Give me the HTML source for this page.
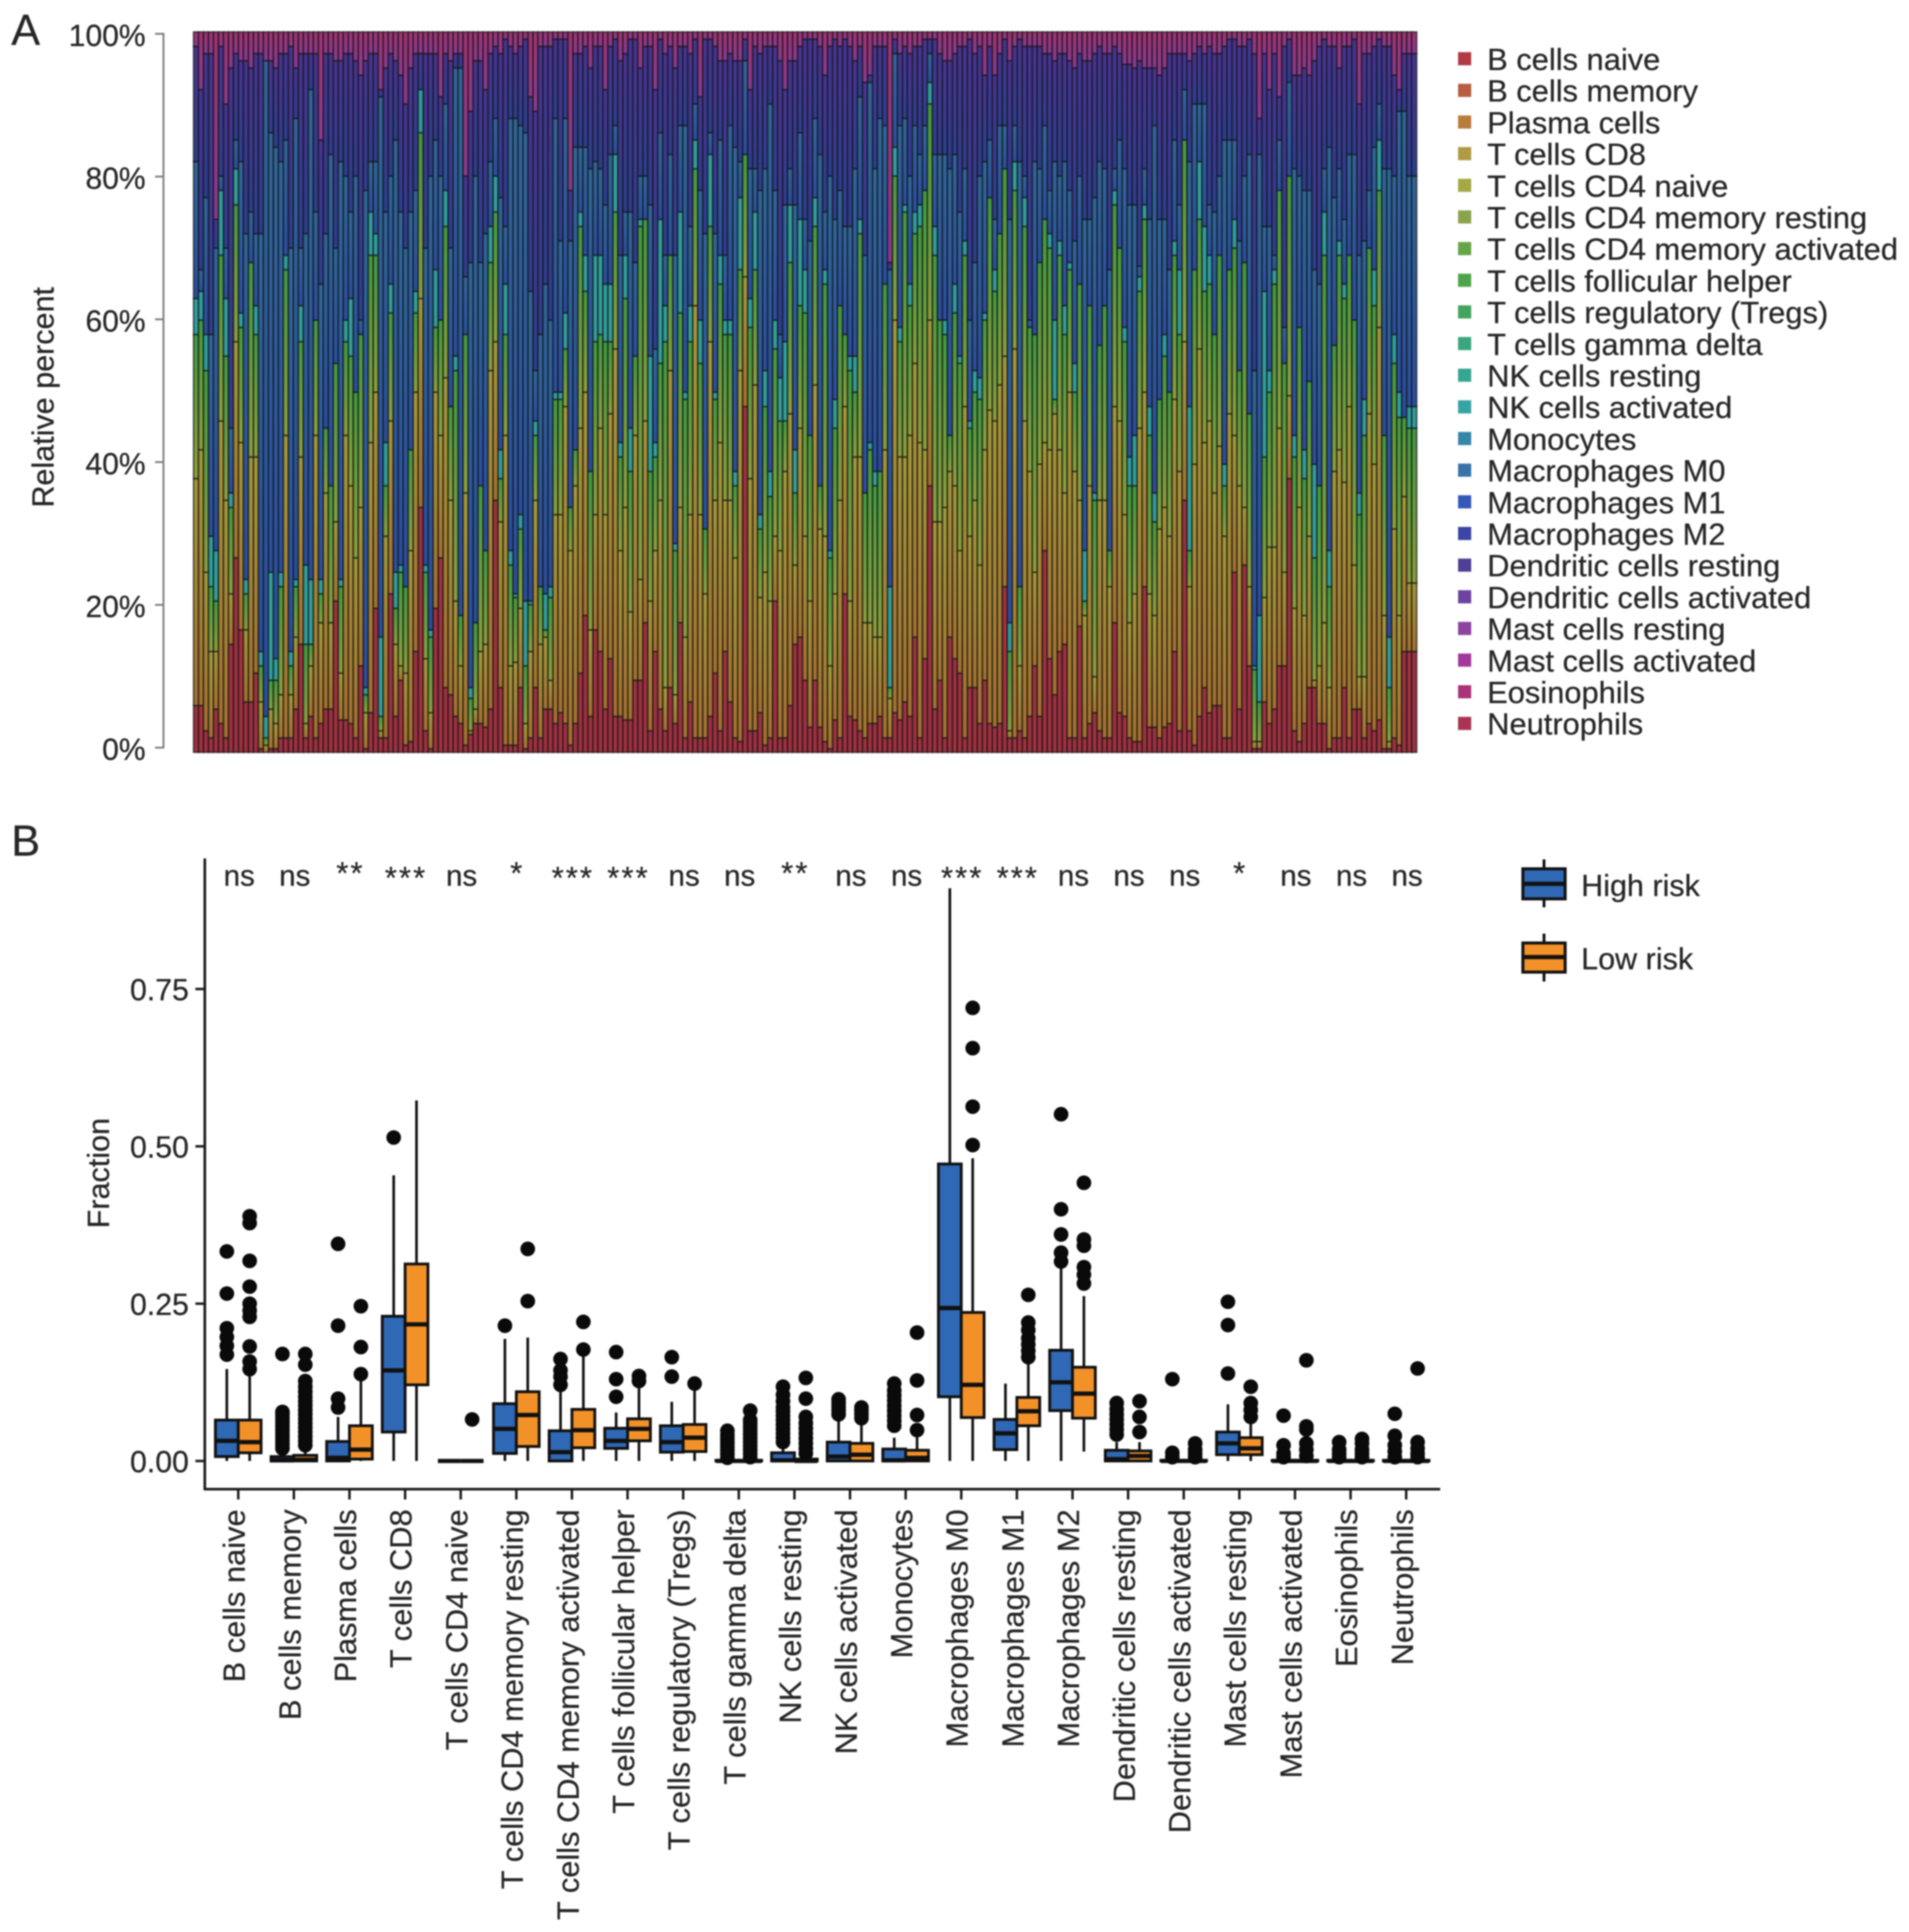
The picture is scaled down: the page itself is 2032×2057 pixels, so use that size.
<!DOCTYPE html>
<html lang="en">
<head>
<meta charset="utf-8">
<title>Immune cell fractions: stacked bars and box plots</title>
<style>
  html, body { margin: 0; padding: 0; background: #ffffff; }
  #figure { display: block; width: 2032px; height: 2057px; filter: blur(0.7px); font-family: "Liberation Sans", sans-serif; }
  text { font-family: "Liberation Sans", sans-serif; fill: #262626; stroke: #262626; stroke-width: 0.25px; }
</style>
</head>
<body>
<svg id="figure" xmlns="http://www.w3.org/2000/svg" width="2032" height="2057" viewBox="0 0 2032 2057">
  <defs>
    <linearGradient id="grad-olive" x1="0" y1="1" x2="0" y2="0"><stop offset="0" stop-color="#a5702f"/><stop offset="1" stop-color="#a39838"/></linearGradient>
    <linearGradient id="grad-green" x1="0" y1="1" x2="0" y2="0"><stop offset="0" stop-color="#8c9f3c"/><stop offset="1" stop-color="#409a40"/></linearGradient>
    <linearGradient id="grad-blue" x1="0" y1="1" x2="0" y2="0"><stop offset="0" stop-color="#2a4ea0"/><stop offset="1" stop-color="#2f6699"/></linearGradient>
    <linearGradient id="grad-indigo" x1="0" y1="1" x2="0" y2="0"><stop offset="0" stop-color="#2c3f90"/><stop offset="1" stop-color="#483392"/></linearGradient>
    <linearGradient id="grad-pink" x1="0" y1="1" x2="0" y2="0"><stop offset="0" stop-color="#8a3a90"/><stop offset="1" stop-color="#a03272"/></linearGradient>
  </defs>
  <text x="12" y="48" font-size="46">A</text>
  <text x="12" y="911" font-size="46">B</text>

  <g id="panel-a">
    <g id="stack-bars"></g>
    <line x1="174" y1="35" x2="174" y2="797" stroke="#7f7f7f" stroke-width="2"/>
    <g id="a-ticks"></g>
    <text transform="translate(57,423) rotate(-90)" text-anchor="middle" font-size="32.5">Relative percent</text>
    <g id="a-legend"></g>
  </g>

  <g id="panel-b">
    <line x1="218" y1="914" x2="218" y2="1586.5" stroke="#1a1a1a" stroke-width="2.8"/>
    <line x1="217" y1="1585.5" x2="1533" y2="1585.5" stroke="#1a1a1a" stroke-width="2.8"/>
    <g id="b-yticks"></g>
    <g id="b-xticks"></g>
    <text transform="translate(116,1249) rotate(-90)" text-anchor="middle" font-size="32.5">Fraction</text>
    <g id="b-boxes"></g>
    <g id="b-sig"></g>
    <g>
      <g>
        <line x1="1643.5" y1="915" x2="1643.5" y2="966" stroke="#111" stroke-width="3"/>
        <rect x="1621" y="925" width="45" height="32" fill="#2f68b5" stroke="#111" stroke-width="3.2"/>
        <line x1="1621" y1="941" x2="1666" y2="941" stroke="#111" stroke-width="4.5"/>
        <text x="1683" y="954" font-size="32.5">High risk</text>
      </g>
      <g>
        <line x1="1643.5" y1="994" x2="1643.5" y2="1045" stroke="#111" stroke-width="3"/>
        <rect x="1621" y="1004" width="45" height="31" fill="#f39129" stroke="#111" stroke-width="3.2"/>
        <line x1="1621" y1="1019" x2="1666" y2="1019" stroke="#111" stroke-width="4.5"/>
        <text x="1683" y="1032" font-size="32.5">Low risk</text>
      </g>
    </g>
  </g>
</svg>
<script>
// ---- Panel A: percent at the top of each visible colour band, one value per sample
const bCellsNaiveTop = [6.5,6.5,3,2,6,4,2,15,27,17,7,7,11,.5,0,.5,.5,2,2,2,6,15,2,5,2,4,6,6,21,4.5,4.5,4,2,12,.5,5.5,20,2,2,22,5,10,1,1.5,14,34,3,.5,20,27,9,8,5,4,1,2.5,4,4,3.5,6,35,
9,1,1,1,9,.5,2,9,2,6,6,4,5.5,4,1,4,11,19,5,17,14,6,13,5,5,4.5,4.5,10,10,18,3,14,6,3,9,4,18,2,7,2,2,2,5,11,3,14,7,2,1.5,48,3,3,5.5,1,2,21,2,2,6.5,15,16,
10,3.5,10,3.5,1.5,.5,4.5,2,22,5,4.5,3,2,4,4,5,2,2,5.5,4.5,7,5,16,2,13,37,6,10,2,16,13,11,2,9,9,4,10,4,3.5,4,23,2,2,3,2,5,12,5,28,13,8,14,15,2,2,17.5,2,4,5.5,3,2,
2,18,5.5,5,2,1.5,1.5,23,3.5,3.5,2,3.5,4,14,3,35,3,1,5,9,5.5,6.5,6.5,2,2,25,6,26,12,.5,.5,7,4,6,12,12,38,3,1.5,4,9,9,4,4,.5,2,2,9,2,6,6,2,4,3,4.5,.5,.5,2,1,14,14,14];
const tCellsCd8Top = [38,42,25,14,14,46,35,22,57,43,17,41,41,7,1,6,4,8,44,8,16,41,4,12,44,18,36,18,32,11,44,37,27,34,5.5,43,50,3,30,46,15,12,11,28,50,63,13,5.5,50,44,52,35,21,12,36,3,6,14,15,53,57,
32,44,12,12.5,20,4,14,35,15,16,10,33,33,48,28,37,45,50,17,33,45,33,47,56,28,34,19.5,44,24,46,21,28,35,9,53,8,34,16,33,62,33,22,57,35,43,35,35,27,53,66,38,51,21.5,25,21,30,28,39,47,26,45,
30,21,51,31,30,12,22,35,48,21,41,41,18,18,16,16,42,7.5,60,41,41,44,54,43,42,60,32,32,34,39,37,28,48,30,35,26,42,47.5,46,51,55,3,56,12,46,39,25,40,43,42,47,42,36,50,39,35,19,37,10.5,35,35,
23,48,46,33,18,22,45,50,22,19,31,34,30,49,39,57,23,40,56,43,46,36,42.5,30,47,44,37,34,23,1.5,1.5,21.5,28.5,28.5,45,25,49.5,20,34,19,30,10,12,18,9,39,42,37.5,48,26,10.5,10.5,47,40,59,19,1.5,31,19,35.5,23.5,23.5];
const tCellsCd4Top = [58,60,53,23,21,69,55,34,76,59,22,68,58,12,2,10,10,23,67,12,23,57,15,15,60,22,45,37,54,23,57,55,50,58,8,69,69,5,37,61,20,25,23,42,61,86,25,16,59,60,73,48,53,19,58,7.5,18,37,28,68,75,
38,58,26,21.5,31,12,20.5,44,23,17,21.5,49,49,56,34,42,73,64,39,57,58,57,57,75,41,63,39,55,73,74,39,41,54,57,69,28,61,49,57,81,54,31,73,49,65,58,58,37,67,83,59,67,31,48,35.5,56,46,46,68,36,62,
61,44,73,37,65,27,45,62,58,53,50,72,36,42,37,39,65,9,80,57,75,62,72,73,78,90,69,60,58,44,61,54,69,45,50,49,60,77,64,72,81,14,78,23,73,59,58,68,74,70,49,69,58,67,50,65,21,62,35,56.5,62,
28,76,70,57,37,37,64,74,44,32,49,55,50,69,58,85,28,67,74,64,65,58,69,37,67,70,53,68,47,11.5,7,41,50,65,78,54,80,41,59,38,51.5,27,37,69,23,56.5,69,63,69,60,33,44,70,62,78,44,9,54,46.5,46.5,45,45];
const nkCellsTop = [63,64,58,30,28,78,63,36,81,61,24,68,62,14,5,25,13,25,69,14,24,62,26,24,60,24,45,37,54,24,60,63,50,58,9,75,72,16,43,65,25,26,23,42,64,92,26,17,67,60,78,48,55,19,58,9,18,37,28,73,80,
42,65,28,22,33,21,21,46,23,22,23,50,50,61,34,42,75,69,39,69,69,65,65,83,43,69,45,55,74,74,55,43,74,62,69,29,75,50,62,85,60,31,83,50,69,60,60,39,77,83,63,75,33,53,39,60,52,57,76,42,74,
67,44,77,37,67,28,49,62,58,55,55,74,36,43,39,39,65,23,84,59,76,65,75,76,78,93,73,60,60,44,65,55,71,46,53,52,61,77,67,72,81,18,82,23,77,59,58,68,74,72,60,71,62,68,54,65,28,62,36,56.5,62,
28,78,70,59,41,44,66,76,48,36,49,58,50,71,67,85,48,67,82,73,69,58,69,40,67,74,53,68,47,12,19,64,53,67,78,54,80,44,59,42,51.5,40,37,75,28,56.5,71,65,69,60,36,49,70,67,85,44,16,58,50,46.5,48,48];
const macrophagesM0Top = [82,67,77,58,70,80,70,45,85,82,72,75,72,72,96,86,84,82,85,70,88,70,72,92,75,65,72,83,70,82,80,75,80,60,78,82,82,91,75,80,85,75,70,75,78,92,70,80,85,80,90,70,95,95,66,68,80,68,72,82,88,
77,73,88,88,87,86,64,53,58,65,60,88,71,88,71,84,84,84,81,82,81,76,83,87,69,75,75,68,80,80,76,56,86,69,83,69,87,87,73,90,78,72,86,72,85,69,87,84,82,96,81,81,78,81,90,78,58,76,81,76,86,
74,71,88,83,75,80,74,78,73,73,81,91,69,93,81,88,87,67,97,87,88,80,87,83,87,97,83,83,83,81,83,75,81,60,68,80,82,85,74,87,87,74,87,82,80,60,82,81,87,78,82,80,82,78,71,80,74,74,77,82,81,
67,81,85,81,76,76,67.5,81,74,87,74,74,67,85,76,92,82,90,90,90,76,75,80,85,85,85,71,80,83,53,83,73,73,69,85,59,93,81,80,78,78,67,65,81,84,77,81,74,83,83,69,71,78,84,90,81,81,80,89,89,80,80];
const macrophagesM2Top = [98,92,97,97,74,98,90,95,97,96,96,95,97,97,96,96,95,97,97,98,95,97,97,97,97,85,97,97,96,96,97,97,96,94,96,97,97,92,95,97,96,94,90,95,97,97,97,97,97,91,97,96,97,97,80,89,96,96,92,97,98,
97,99,98,97,98,99,91,89,98,98,98,99,99,99,78,97,97,98,95,98,98,92,98,99,96,97,99,99,95,98,98,92,99,97,98,95,98,98,97,99,91,99,99,98,96,96,97,96,96,99,92,98,97,98,98,98,96,92,96,96,98,
99,99,99,98,94,98,99,98,99,98,96,98,93,94,98,98,98,68,99,97,98,97,98,98,99,99,99,97,96,96,97,98,98,99,97,98,94,98,94,97,99,96,98,99,98,98,98,98,97,97,96,97,97,96,95,97,96,96,97,98,97,
97,98,97,95.5,95.5,95,96,95,95,95,94,95,97,97,97,97,96,97,98,97,98,97,97,98,99,99,98,98,99,97,88,97,92,97,91,98,99,94,94,95,94,96,98,99,98,98,95,98,98,99,90,97,97,98,99,98,98,94,92,97,97,97];
const stackBandTops = [bCellsNaiveTop, tCellsCd8Top, tCellsCd4Top, nkCellsTop, macrophagesM0Top, macrophagesM2Top];
const stackBandNames = ['b-cells-naive', 't-cells-cd8', 't-cells-cd4', 'nk-cells', 'macrophages-m0', 'macrophages-m2', 'mast-and-other'];
const percentTicks = [0, 20, 40, 60, 80, 100];
const percentTickLabels = ['0%', '20%', '40%', '60%', '80%', '100%'];
const legendCellTypes = ['B cells naive','B cells memory','Plasma cells','T cells CD8','T cells CD4 naive','T cells CD4 memory resting','T cells CD4 memory activated','T cells follicular helper','T cells regulatory (Tregs)','T cells gamma delta','NK cells resting','NK cells activated','Monocytes','Macrophages M0','Macrophages M1','Macrophages M2','Dendritic cells resting','Dendritic cells activated','Mast cells resting','Mast cells activated','Eosinophils','Neutrophils'];
const legendColours = ['#b23a44','#b85c42','#b97c3a','#b09a44','#a4a944','#8aa44c','#66a44a','#4ea44a','#44a45c','#3aa680','#36a690','#36a4a4','#3686aa','#3873a8','#3458b8','#3c44a4','#503f96','#6e42a2','#8e42a2','#a2389c','#aa3478','#aa3452'];

// ---- Panel B: box plot statistics
const boxCategories = ['B cells naive','B cells memory','Plasma cells','T cells CD8','T cells CD4 naive','T cells CD4 memory resting','T cells CD4 memory activated','T cells follicular helper','T cells regulatory (Tregs)','T cells gamma delta','NK cells resting','NK cells activated','Monocytes','Macrophages M0','Macrophages M1','Macrophages M2','Dendritic cells resting','Dendritic cells activated','Mast cells resting','Mast cells activated','Eosinophils','Neutrophils'];
const significance = ['ns','ns','**','***','ns','*','***','***','ns','ns','**','ns','ns','***','***','ns','ns','ns','*','ns','ns','ns'];
const fractionTicks = [0, 0.25, 0.5, 0.75];
const fractionTickLabels = ['0.00', '0.25', '0.50', '0.75'];
const highQ1 = [.007,0,0,.046,0,.012,0,.02,.014,0,0,0,0,.102,.018,.08,0,0,.01,0,0,0];
const highMedian = [.032,.001,.005,.144,0,.051,.014,.032,.03,0,.001,.007,.001,.243,.044,.125,.003,0,.028,0,0,0];
const highQ3 = [.065,.007,.031,.23,0,.091,.048,.052,.056,.001,.013,.03,.019,.472,.066,.176,.017,.001,.046,.001,.001,.001];
const highWhiskerLow = [0,0,0,0,0,0,0,0,0,0,0,0,0,0,0,0,0,0,0,0,0,0];
const highWhiskerTop = [.146,.015,.07,.454,0,.194,.113,.077,.094,.003,.03,.07,.037,.91,.123,.306,.03,.002,.09,.002,.002,.002];
const lowQ1 = [.013,0,.003,.121,0,.023,.021,.032,.015,0,0,0,0,.069,.056,.068,0,0,.01,0,0,0];
const lowMedian = [.03,.002,.018,.217,0,.073,.049,.051,.037,0,0,.01,.005,.121,.079,.107,.008,0,.02,0,0,0];
const lowQ3 = [.065,.009,.056,.313,0,.11,.082,.067,.058,.001,.003,.028,.017,.236,.101,.149,.016,.001,.037,.001,.001,.001];
const lowWhiskerLow = [0,0,0,0,0,0,0,0,0,0,0,0,0,0,0,.015,0,0,0,0,0,0];
const lowWhiskerTop = [.144,.02,.13,.573,0,.196,.169,.123,.113,.003,.008,.067,.042,.481,.158,.262,.03,.002,.067,.002,.002,.002];
const highOutliers = [
  [.169,.183,.197,.211,.266,.333],
  [.02,.026,.032,.038,.044,.05,.056,.062,.068,.074,.078,.17],
  [.085,.099,.215,.345],
  [.514],
  [],
  [.215],
  [.121,.134,.144,.162],
  [.102,.13,.173],
  [.134,.165],
  [.005,.011,.017,.023,.029,.035,.041,.048],
  [.03,.037,.044,.051,.058,.065,.072,.079,.085,.095,.105,.118],
  [.074,.08,.086,.092,.098],
  [.056,.064,.072,.08,.088,.096,.104,.112,.123],
  [],
  [],
  [.317,.331,.36,.4,.551],
  [.042,.05,.058,.066,.074,.082,.092],
  [.006,.013,.13],
  [.139,.216,.253],
  [.006,.012,.025,.072],
  [.006,.012,.018,.03],
  [.006,.015,.025,.04,.075]
];
const lowOutliers = [
  [.146,.158,.182,.229,.239,.25,.277,.318,.378,.389],
  [.025,.032,.039,.046,.053,.06,.067,.074,.081,.088,.095,.102,.11,.118,.127,.153,.17],
  [.138,.181,.246],
  [],
  [.066],
  [.254,.337],
  [.177,.221],
  [.127,.135],
  [.123],
  [.006,.012,.018,.024,.03,.036,.042,.048,.054,.06,.065,.08],
  [.012,.02,.028,.036,.044,.052,.06,.07,.099,.132],
  [.068,.074,.08,.085],
  [.049,.073,.128,.204],
  [.502,.563,.656,.72],
  [.165,.175,.185,.195,.208,.22,.264],
  [.282,.296,.308,.342,.352,.442],
  [.046,.07,.095],
  [.006,.012,.018,.028],
  [.07,.081,.092,.118],
  [.008,.018,.028,.05,.055,.16],
  [.006,.012,.018,.028,.035],
  [.006,.012,.02,.03,.147]
];

// ---- Axis functions
const sampleCount = bCellsNaiveTop.length;
const barPitch = 1302 / sampleCount;
function xSample(i) { return 206 + i * barPitch; }
function yStack(pct) { return 801 - pct * 7.67; }
function yPercentTick(pct) { return 796 - pct * 7.6; }
function xCategory(k) { return 253.6 + k * 59.2; }
function yFraction(v) { return 1555.5 - v * 670; }

const SVG_NS = 'http://www.w3.org/2000/svg';
function make(tag, attrs, parent) {
  const el = document.createElementNS(SVG_NS, tag);
  for (const key in attrs) { el.setAttribute(key, attrs[key]); }
  parent.appendChild(el);
  return el;
}

// ---- Draw panel A
const bandFills = ['#a03040', 'url(#grad-olive)', 'url(#grad-green)', '#2f9f9c', 'url(#grad-blue)', 'url(#grad-indigo)', 'url(#grad-pink)'];
const stackGroup = document.getElementById('stack-bars');
for (let i = 0; i < sampleCount; i++) {
  let lower = 0;
  for (let b = 0; b <= stackBandTops.length; b++) {
    const top = b < stackBandTops.length ? Math.max(lower, stackBandTops[b][i]) : 100;
    if (top > lower) {
      const rect = make('rect', {x: xSample(i), y: yStack(top), width: barPitch, height: yStack(lower) - yStack(top), fill: bandFills[b], stroke: '#161616', 'stroke-width': 1.5, 'stroke-opacity': 0.75}, stackGroup);
      
      
    }
    lower = top;
  }
}
const aTicks = document.getElementById('a-ticks');
percentTicks.forEach(function (p, idx) {
  const tick = make('line', {x1: 165, x2: 174, y1: yPercentTick(p), y2: yPercentTick(p), stroke: '#7f7f7f', 'stroke-width': 2}, aTicks);
  
  
  const label = make('text', {x: 155, y: yPercentTick(p) + 13, 'text-anchor': 'end', 'font-size': 32}, aTicks);
  label.textContent = percentTickLabels[idx];
  
  
});
const aLegend = document.getElementById('a-legend');
legendCellTypes.forEach(function (name, k) {
  const cy = 62.5 + k * 33.7;
  const swatch = make('rect', {x: 1552, y: cy - 7, width: 14, height: 14, fill: legendColours[k]}, aLegend);
  
  
  const label = make('text', {x: 1583, y: cy + 12, 'font-size': 32.85}, aLegend);
  label.textContent = name;
  
  
});

// ---- Draw panel B
const yTicksGroup = document.getElementById('b-yticks');
fractionTicks.forEach(function (v, idx) {
  const tick = make('line', {x1: 208, x2: 218, y1: yFraction(v), y2: yFraction(v), stroke: '#1a1a1a', 'stroke-width': 2.6}, yTicksGroup);
  
  
  const label = make('text', {x: 201, y: yFraction(v) + 12, 'text-anchor': 'end', 'font-size': 32.2}, yTicksGroup);
  label.textContent = fractionTickLabels[idx];
  
  
});
const xTicksGroup = document.getElementById('b-xticks');
boxCategories.forEach(function (name, k) {
  const x = xCategory(k);
  const tick = make('line', {x1: x, x2: x, y1: 1585.5, y2: 1596.5, stroke: '#1a1a1a', 'stroke-width': 2.6}, xTicksGroup);
  
  
  const label = make('text', {transform: 'translate(' + (x + 7) + ',1607) rotate(-90)', 'text-anchor': 'end', 'font-size': 32.85}, xTicksGroup);
  label.textContent = name;
  
  
});
const sigGroup = document.getElementById('b-sig');
significance.forEach(function (s, k) {
  const isStars = s.charAt(0) === '*';
  const base = s === 'ns' ? 943 : (s === '***' ? 946 : 941);
  const label = make('text', {x: xCategory(k) + 1, y: base, 'text-anchor': 'middle', 'font-size': isStars ? 33 : 31.5}, sigGroup);
  if (isStars) { label.setAttribute('letter-spacing', '2.2'); }
  label.textContent = s;
  
  
});
const boxGroup = document.getElementById('b-boxes');
function drawBox(k, offset, colour, q1, med, q3, lo, hi, outliers, groupName) {
  const cx = xCategory(k) + offset;
  const halfWidth = 12.15;
  const whisker = make('line', {x1: cx, x2: cx, y1: yFraction(hi), y2: yFraction(lo), stroke: '#111', 'stroke-width': 2.8}, boxGroup);
  
  
  const box = make('rect', {x: cx - halfWidth, y: yFraction(q3), width: halfWidth * 2, height: yFraction(q1) - yFraction(q3), fill: colour, stroke: '#111', 'stroke-width': 3}, boxGroup);
  
  
  const median = make('line', {x1: cx - halfWidth, x2: cx + halfWidth, y1: yFraction(med), y2: yFraction(med), stroke: '#111', 'stroke-width': 4.6}, boxGroup);
  
  
  outliers.forEach(function (v) {
    const dot = make('circle', {cx: cx, cy: yFraction(v), r: 7.8, fill: '#0a0a0a'}, boxGroup);
    
    
  });
}
boxCategories.forEach(function (name, k) {
  drawBox(k, -12.15, '#2f68b5', highQ1[k], highMedian[k], highQ3[k], highWhiskerLow[k], highWhiskerTop[k], highOutliers[k], 'high-risk');
  drawBox(k, 12.15, '#f39129', lowQ1[k], lowMedian[k], lowQ3[k], lowWhiskerLow[k], lowWhiskerTop[k], lowOutliers[k], 'low-risk');
});
</script>
</body>
</html>
